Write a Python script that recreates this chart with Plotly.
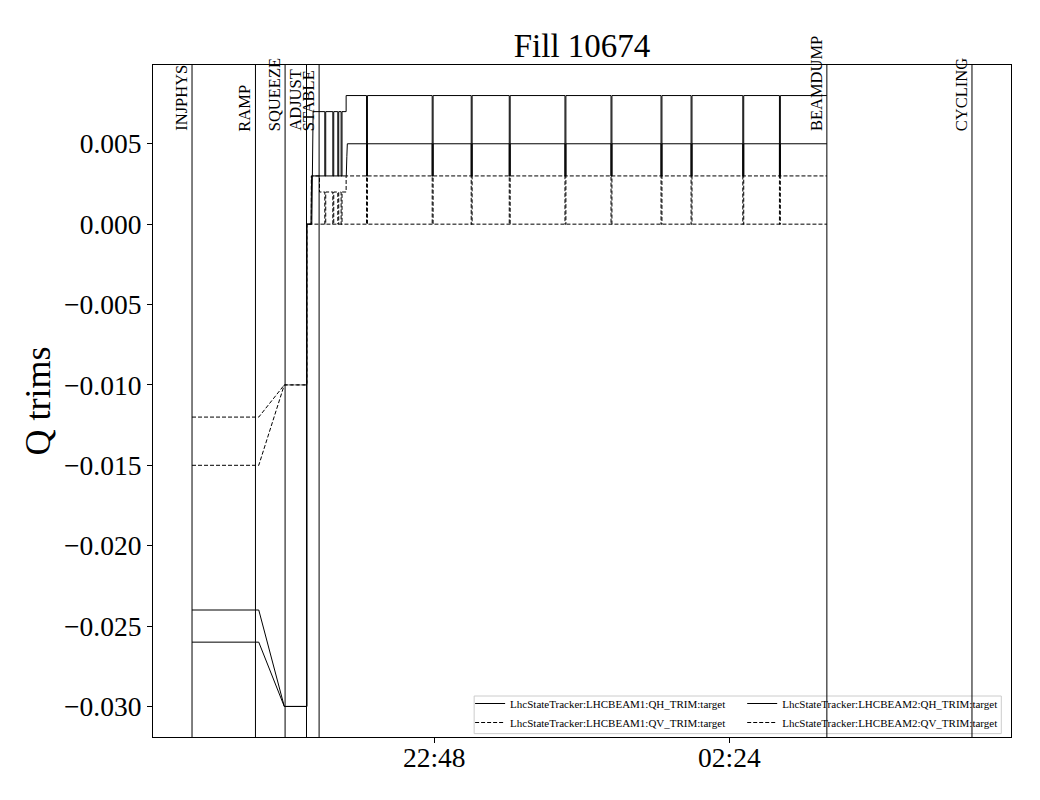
import plotly.graph_objects as go
from datetime import datetime, timedelta

FONT = "Liberation Serif"

# ---------------- data ----------------
title_text = "Fill 10674"
y_label = "Q trims"

mode_names = ["INJPHYS", "RAMP", "SQUEEZE", "ADJUST", "STABLE", "BEAMDUMP", "CYCLING"]
mode_times = ["2025-05-31 19:50:48", "2025-05-31 20:37:13", "2025-05-31 20:58:54",
              "2025-05-31 21:14:34", "2025-05-31 21:23:47", "2025-06-01 03:35:19",
              "2025-06-01 05:21:30"]

# LhcStateTracker:LHCBEAM1:QH_TRIM:target (solid)
b1_qh_times = ["2025-05-31 19:50:48", "2025-05-31 20:39:38", "2025-05-31 20:58:19",
               "2025-05-31 21:14:47", "2025-05-31 21:14:47", "2025-05-31 21:18:27",
               "2025-05-31 21:19:24", "2025-05-31 21:43:34", "2025-05-31 21:43:34",
               "2025-06-01 03:35:19"]
b1_qh_vals = [-0.024, -0.024, -0.030, -0.030, 0.000, 0.000, 0.007, 0.007, 0.008, 0.008]

# LhcStateTracker:LHCBEAM2:QH_TRIM:target (solid)
b2_qh_times = ["2025-05-31 19:50:48", "2025-05-31 20:39:38", "2025-05-31 20:58:19",
               "2025-05-31 21:14:47", "2025-05-31 21:14:47", "2025-05-31 21:17:50",
               "2025-05-31 21:18:20", "2025-05-31 21:43:40", "2025-05-31 21:44:05",
               "2025-05-31 21:44:27", "2025-06-01 03:35:19"]
b2_qh_vals = [-0.026, -0.026, -0.030, -0.030, 0.000, 0.000, 0.003, 0.003, 0.0042, 0.005, 0.005]

# LhcStateTracker:LHCBEAM1:QV_TRIM:target (dashed)
b1_qv_times = ["2025-05-31 19:50:48", "2025-05-31 20:39:38", "2025-05-31 20:58:19",
               "2025-05-31 21:14:47", "2025-05-31 21:14:47", "2025-05-31 21:18:05",
               "2025-05-31 21:18:05", "2025-05-31 21:24:05", "2025-05-31 21:24:05",
               "2025-05-31 21:43:34", "2025-05-31 21:43:34", "2025-06-01 03:35:19"]
b1_qv_vals = [-0.012, -0.012, -0.010, -0.010, 0.000, 0.000, 0.003, 0.003, 0.002, 0.002, 0.003, 0.003]

# LhcStateTracker:LHCBEAM2:QV_TRIM:target (dashed)
b2_qv_times = ["2025-05-31 19:50:48", "2025-05-31 20:39:38", "2025-05-31 20:58:19",
               "2025-05-31 21:14:47", "2025-05-31 21:14:47", "2025-06-01 03:35:19"]
b2_qv_vals = [-0.015, -0.015, -0.010, -0.010, 0.000, 0.000]

# short trim resets (drop and immediate return)
early_spike_times = ["2025-05-31 21:27:58", "2025-05-31 21:33:50",
                     "2025-05-31 21:37:29", "2025-05-31 21:39:54"]
spike_times = ["2025-05-31 21:58:30", "2025-05-31 22:46:32", "2025-05-31 23:15:05",
               "2025-05-31 23:42:55", "2025-06-01 00:23:42", "2025-06-01 00:57:23",
               "2025-06-01 01:33:59", "2025-06-01 01:55:58", "2025-06-01 02:33:49",
               "2025-06-01 03:00:37"]
qh_spike_level = 0.003
qv_spike_level = 0.000

x_ticks = ["2025-05-31 22:48:00", "2025-06-01 02:24:00"]
x_tick_text = ["22:48", "02:24"]
y_ticks = [-0.030, -0.025, -0.020, -0.015, -0.010, -0.005, 0.000, 0.005]
x_range = ["2025-05-31 19:22:15", "2025-06-01 05:50:03"]
y_range = [-0.0319, 0.0099]


# ---------------- helpers ----------------
def parse(t):
    return datetime.strptime(t, "%Y-%m-%d %H:%M:%S")


def build(times, vals, spikes, low):
    pts = [(parse(t), v) for t, v in zip(times, vals)]
    for s in sorted(spikes):
        ts = parse(s)
        idx = max(i for i, (t, _) in enumerate(pts) if t <= ts)
        cur = pts[idx][1]
        te = ts + timedelta(seconds=40)
        pts[idx + 1:idx + 1] = [(ts, cur), (ts, low), (te, low), (te, cur)]
    return [p[0] for p in pts], [p[1] for p in pts]


series = [
    ("LhcStateTracker:LHCBEAM1:QH_TRIM:target", b1_qh_times, b1_qh_vals,
     early_spike_times + spike_times, qh_spike_level, "solid", "legend"),
    ("LhcStateTracker:LHCBEAM1:QV_TRIM:target", b1_qv_times, b1_qv_vals,
     early_spike_times + spike_times, qv_spike_level, "4px,2px", "legend"),
    ("LhcStateTracker:LHCBEAM2:QH_TRIM:target", b2_qh_times, b2_qh_vals,
     spike_times, qh_spike_level, "solid", "legend2"),
    ("LhcStateTracker:LHCBEAM2:QV_TRIM:target", b2_qv_times, b2_qv_vals,
     [], qv_spike_level, "4px,2px", "legend2"),
]

fig = go.Figure()
for name, t, v, sp, low, dash, leg in series:
    xs, ys = build(t, v, sp, low)
    fig.add_trace(go.Scatter(x=xs, y=ys, mode="lines", name=name,
                             line=dict(color="black", width=1, dash=dash),
                             legend=leg))

# mode change lines and labels
for name, t in zip(mode_names, mode_times):
    fig.add_shape(type="line", xref="x", yref="paper", x0=t, x1=t, y0=0, y1=1,
                  line=dict(color="black", width=1))
    fig.add_annotation(x=t, xref="x", y=0.9, yref="paper", text=name,
                       textangle=-90, xanchor="right", yanchor="bottom",
                       showarrow=False, font=dict(family=FONT, size=16.5, color="black"),
                       borderpad=0)

# legend frame
fig.add_shape(type="rect", xref="paper", yref="paper",
              x0=0.3743, x1=0.9887, y0=0.005, y1=0.061,
              line=dict(color="#cccccc", width=1), fillcolor="rgba(255,255,255,0.8)",
              layer="below")

leg_common = dict(font=dict(family=FONT, size=11, color="black"),
                  bgcolor="rgba(0,0,0,0)", borderwidth=0, tracegroupgap=0,
                  xanchor="left", yanchor="bottom", itemwidth=30)

fig.update_layout(
    width=1032, height=792,
    margin=dict(l=145, r=29, t=57, b=63),
    paper_bgcolor="white", plot_bgcolor="white",
    font=dict(family=FONT, color="black"),
    title=dict(text=title_text, x=0.5, xanchor="center", xref="paper",
               y=1.0, yref="paper", yanchor="bottom", pad=dict(b=8),
               font=dict(family=FONT, size=33, color="black")),
    legend=dict(x=0.3696, y=0.0, **leg_common),
    legend2=dict(x=0.6867, y=0.0, **leg_common),
    showlegend=True,
)

fig.update_xaxes(type="date", range=x_range, tickvals=x_ticks, ticktext=x_tick_text,
                 showgrid=False, zeroline=False, showline=True, mirror=True,
                 linecolor="black", linewidth=1, ticks="outside", ticklen=5,
                 ticklabelstandoff=-9,
                 tickcolor="black", tickfont=dict(family=FONT, size=27.5, color="black"))
fig.update_yaxes(range=y_range, tickvals=y_ticks,
                 ticktext=[("\u2212" if v < 0 else "") + "%.3f" % abs(v) for v in y_ticks],
                 showgrid=False, zeroline=False, showline=True, mirror=True,
                 linecolor="black", linewidth=1, ticks="outside", ticklen=5,
                 tickcolor="black", tickfont=dict(family=FONT, size=27.5, color="black"),
                 title=dict(text=y_label, standoff=2,
                            font=dict(family=FONT, size=36, color="black")))

fig.write_html("out.html")
